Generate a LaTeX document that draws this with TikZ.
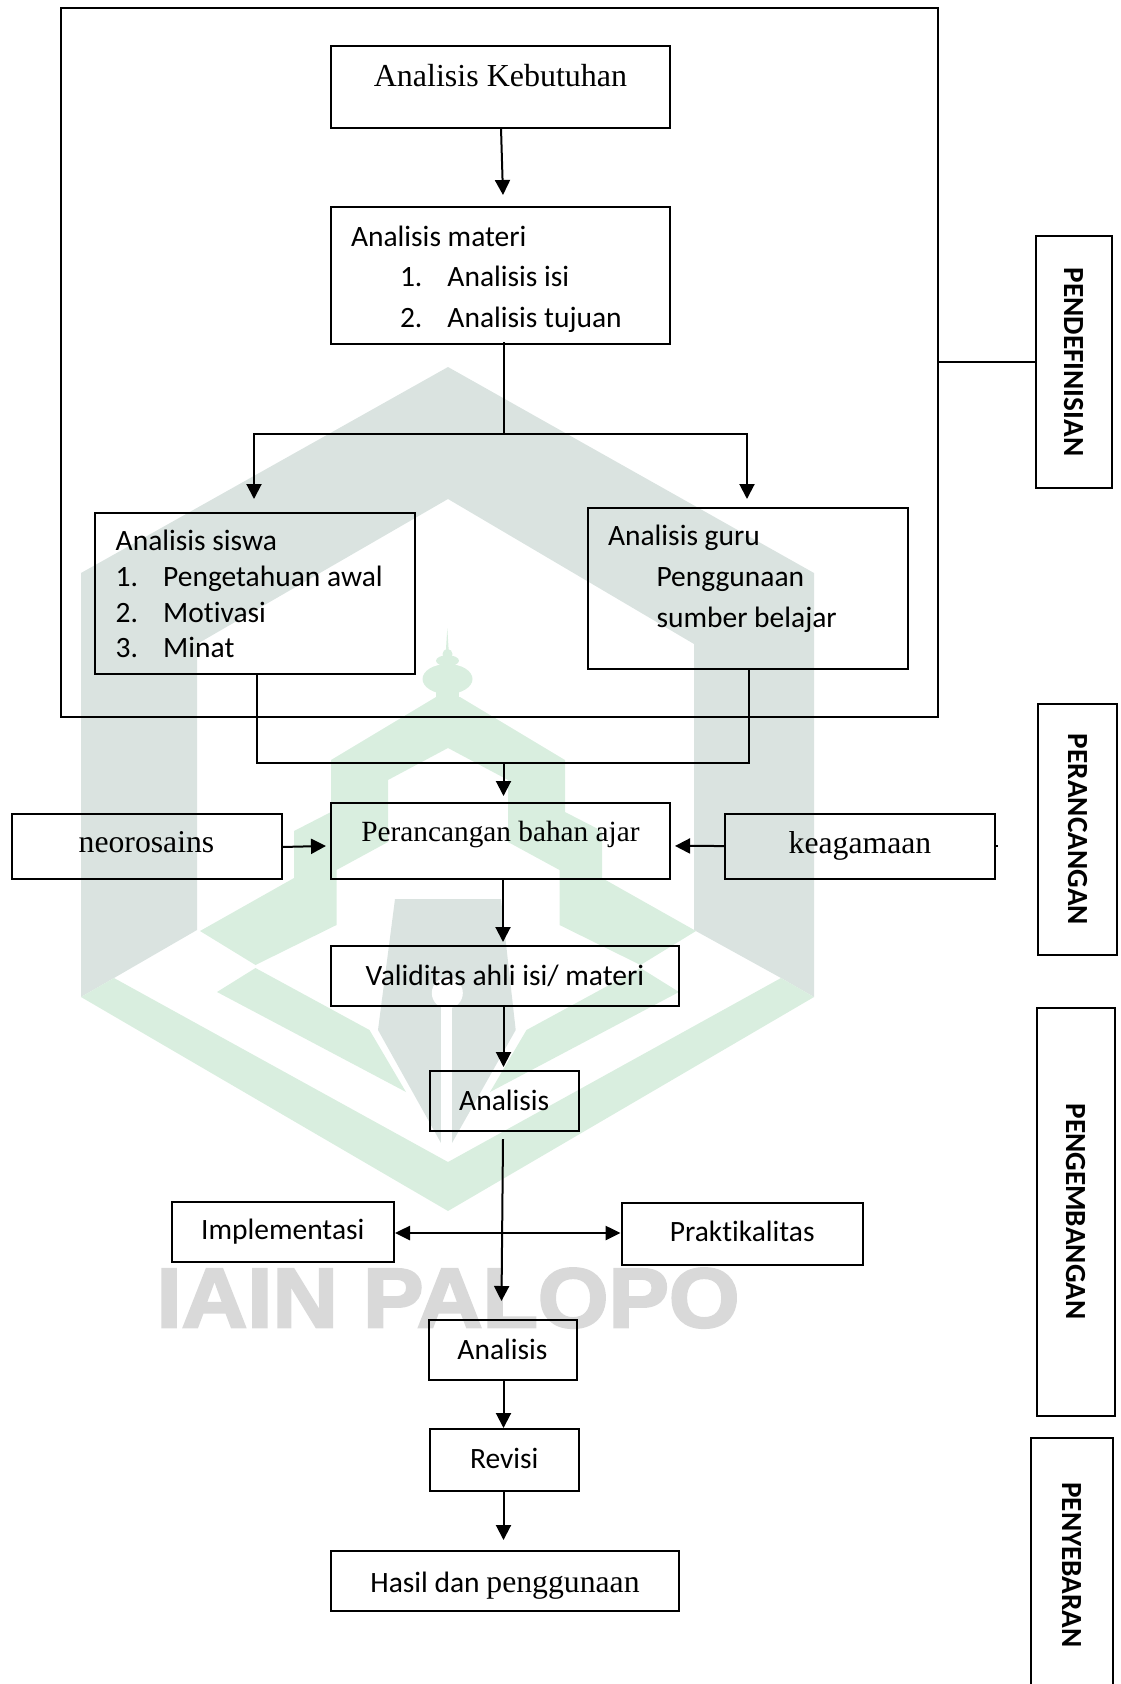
\documentclass[tikz,border=0pt]{standalone}
\usepackage{fontspec}
\setmainfont{Carlito}[Ligatures=NoCommon]
\newfontfamily\tms{Liberation Serif}
\newfontfamily\wmfont{Liberation Sans}[BoldFeatures={FakeBold=3,FakeStretch=1.08}]
\usetikzlibrary{arrows.meta}
\definecolor{wmgray}{HTML}{DAE3E0}
\definecolor{wmgreen}{HTML}{D9EEDF}
\definecolor{wmtext}{HTML}{D9D9D9}
\newcommand{\tx}[2]{\raisebox{-#1pt}[0pt][0pt]{#2}}
\newcommand{\lst}[4]{\raisebox{-#1pt}[0pt][0pt]{\parbox[t]{#2pt}{\fontsize{29.5}{#3}\selectfont #4}}}
\newcommand{\nr}[1]{\makebox[47.5pt][l]{#1}}
\tikzset{
  wbox/.style={draw=black,line width=2pt,outer sep=0pt,inner sep=0pt,font=\fontsize{29.5}{35}\selectfont,text=black},
  sidebox/.style={wbox,rotate=-90,font=\fontsize{29.2}{34}\bfseries\selectfont},
  lin/.style={draw=black,line width=2pt},
  arr/.style={lin,-{Triangle[length=15pt,width=15pt]}},
  darr/.style={draw=black,line width=2.6pt,{Triangle[length=15pt,width=14pt]}-{Triangle[length=15pt,width=14pt]}}
}
\begin{document}
\begin{tikzpicture}[x=1pt,y=-1pt]
\useasboundingbox (0,0) rectangle (1120,1684);
\clip (0,0) rectangle (1120,1684);
% watermark
\fill[wmgray] (448,367) -- (814,573) -- (814,997) -- (781,978) -- (694,930) -- (694,644) -- (448,499) -- (197,644) -- (197,930) -- (114,978) -- (81,997) -- (81,573) -- cycle;
\fill[wmgreen] (81,997) -- (448,1211) -- (814,997) -- (781,978) -- (448,1162) -- (114,978) -- cycle;
\fill[wmgreen] (436,697) -- (331,760) -- (331,812) -- (294,831) -- (294,878) -- (200,931) -- (255.5,965) -- (336.5,925) -- (336.5,870) -- (388,842) -- (388,780) -- (448,748) -- (508,780) -- (508,842) -- (559.5,870) -- (559.5,925) -- (640.5,965) -- (696,931) -- (602,878) -- (602,831) -- (565,812) -- (565,760) -- (460,697) -- cycle;
\fill[wmgreen] (447.5,679) ellipse [x radius=25,y radius=15];
\fill[wmgreen] (436,685) rectangle (459,700);
\fill[wmgreen] (447.5,660.7) ellipse [x radius=11.5,y radius=5.5];
\fill[wmgreen] (447.5,654) ellipse [x radius=5,y radius=5];
\fill[wmgreen] (445.8,652) -- (447.3,628) -- (448.8,652) -- cycle;
\fill[wmgreen] (255.5,968) -- (217,992) -- (406,1092) -- (369.5,1030) -- cycle;
\fill[wmgreen] (640.5,968) -- (679,992) -- (490,1092) -- (526.5,1030) -- cycle;
\fill[wmgray] (395,899) -- (501,899) -- (515.7,1030) -- (452,1143) -- (441,1143) -- (378,1030) -- cycle;
\fill[white] (447.3,993) circle [radius=15.5];
\fill[white] (441,993) rectangle (451.7,1145);
\node[font=\fontsize{84}{90}\selectfont,text=wmtext,inner sep=0pt,anchor=base] (wmname) at (448,1327) {\wmfont\bfseries IAIN PALOPO};
% boxes
\node[wbox,line width=2.4pt,minimum width=877pt,minimum height=709pt] (outer) at (499.75,362.5) {};
\node[wbox,minimum width=339pt,minimum height=82pt] (keb) at (500.5,87) {\tx{-1}{\fontsize{32}{35}\tms Analisis Kebutuhan}};
\node[wbox,minimum width=339pt,minimum height=137pt] (materi) at (500.5,275.5) {\lst{-29.5}{299}{40.7}{Analisis materi\\ \hspace*{49pt}\nr{1.}Analisis isi\\ \hspace*{49pt}\nr{2.}Analisis tujuan}};
\node[wbox,minimum width=320pt,minimum height=161.5pt] (siswa) at (255,593.25) {\lst{-43}{278.6}{35.9}{Analisis siswa\\ \nr{1.}Pengetahuan awal\\ \nr{2.}Motivasi\\ \nr{3.}Minat}};
\node[wbox,minimum width=320pt,minimum height=161pt] (guru) at (748,588.5) {\lst{-43.5}{280}{41.2}{Analisis guru\\ \hspace*{48.5pt}Penggunaan\\ \hspace*{48.5pt}sumber belajar}};
\node[wbox,minimum width=339pt,minimum height=75.5pt] (per) at (500.5,840.75) {\tx{1}{\fontsize{29.3}{35}\tms Perancangan bahan ajar}};
\node[wbox,minimum width=270pt,minimum height=65pt] (neo) at (146.5,846) {\tx{6.7}{\fontsize{31.7}{35}\tms neorosains}};
\node[wbox,minimum width=270pt,minimum height=65pt] (kea) at (860,846) {\tx{7.5}{\fontsize{31.7}{35}\tms keagamaan}};
\node[wbox,minimum width=348pt,minimum height=60pt] (val) at (505,976) {\tx{9.7}{Validitas ahli isi/ materi}};
\node[wbox,minimum width=148.5pt,minimum height=60pt] (an1) at (504.25,1101) {\tx{9}{Analisis}};
\node[wbox,minimum width=221.5pt,minimum height=60.5pt] (impl) at (282.75,1231.75) {\tx{8}{Implementasi}};
\node[wbox,minimum width=241.5pt,minimum height=62pt] (prak) at (742.25,1234) {\tx{7.7}{Praktikalitas}};
\node[wbox,minimum width=148pt,minimum height=60pt] (an2) at (502.5,1350) {\tx{9}{Analisis}};
\node[wbox,minimum width=148.5pt,minimum height=62pt] (rev) at (504.25,1460) {\tx{8}{Revisi}};
\node[wbox,minimum width=348pt,minimum height=60pt] (hasil) at (505,1581) {\tx{11.5}{Hasil dan {\fontsize{31.7}{35}\tms penggunaan}}};
% side boxes
\node[sidebox,minimum width=252pt,minimum height=75.5pt] (pendef) at (1073.75,362) {PENDEFINISIAN};
\node[sidebox,minimum width=251pt,minimum height=79pt] (peranc) at (1077.5,829.5) {PERANCANGAN};
\node[sidebox,minimum width=408pt,minimum height=78pt] (pengem) at (1076,1211.5) {PENGEMBANGAN};
\node[sidebox,minimum width=254pt,minimum height=82pt] (penye) at (1072,1565) {PENYEBARAN};
% connectors
\coordinate (split) at (503.5,433.5);
\coordinate (merge) at (503.5,762.5);
\draw[arr] ([xshift=0.5pt]keb.south) -- ([xshift=2.5pt,yshift=12pt]materi.north);
\draw[lin] ([xshift=3pt,yshift=2pt]materi.south) -- ([yshift=-1.5pt]split);
\draw[arr] (split) -| ([xshift=-1pt,yshift=13.5pt]siswa.north);
\draw[arr] (split) -| ([xshift=-1pt,yshift=9pt]guru.north);
\draw[lin] ([xshift=1.5pt]siswa.south) |- (merge);
\draw[lin] ([xshift=1pt]guru.south) |- (merge);
\draw[arr] (merge) -- ([xshift=3pt,yshift=7pt]per.north);
\draw[arr] ([yshift=-1pt]neo.east) -- ([xshift=-5pt,yshift=-5.2pt]per.west);
\draw[arr] (kea.west) -- ([xshift=5pt,yshift=-5.2pt]per.east);
\draw[lin] (kea.east) -- ++(2.5,0);
\draw[arr] ([xshift=2.5pt,yshift=-1.5pt]per.south) -- ([xshift=-2pt,yshift=4pt]val.north);
\draw[arr] ([xshift=-1.5pt]val.south) -- ([xshift=-0.75pt,yshift=4pt]an1.north);
\draw[arr] ([xshift=-1.25pt,yshift=-8pt]an1.south) -- ([xshift=-1pt,yshift=19pt]an2.north);
\draw[arr] ([xshift=1pt]an2.south) -- ([xshift=-0.75pt,yshift=1pt]rev.north);
\draw[arr] ([xshift=-0.75pt]rev.south) -- ([xshift=-1.5pt,yshift=11pt]hasil.north);
\draw[darr] ([xshift=1.5pt,yshift=-1.25pt]impl.east) -- ([xshift=-1pt,yshift=1pt]prak.west);
\draw[lin] ([yshift=0.5pt]outer.east) -- (pendef.south);
\end{tikzpicture}
\end{document}
